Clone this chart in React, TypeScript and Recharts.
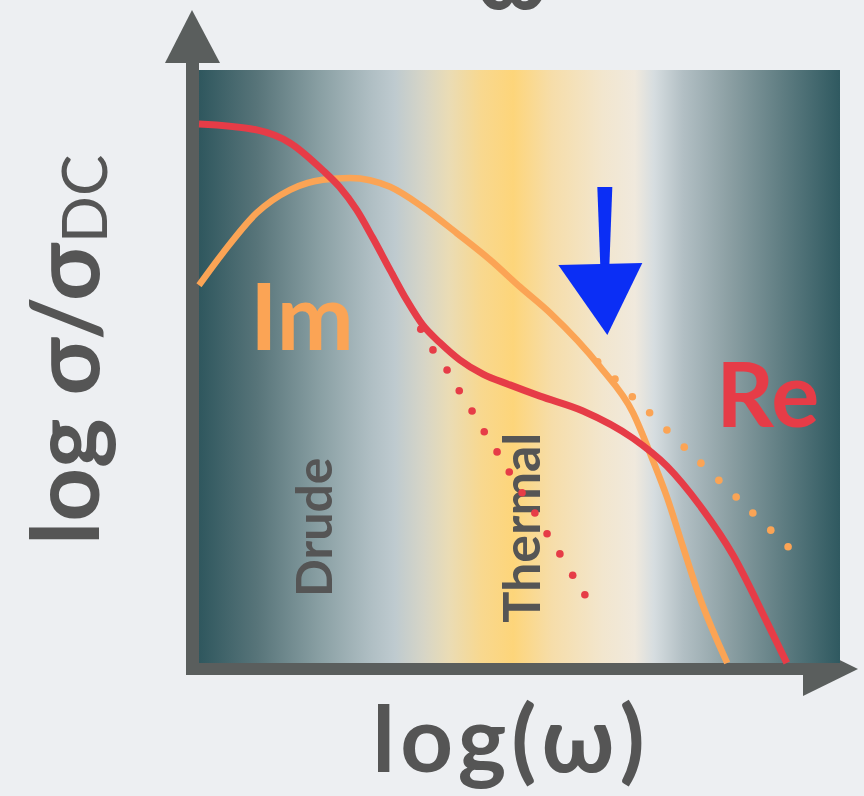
import { ComposedChart, Line, Scatter, XAxis, YAxis, ReferenceArea, ReferenceDot } from 'recharts';

// schematic optical conductivity: log sigma/sigma_DC vs log(omega), arbitrary units 0..100
const reX = [0, 9.0, 14.2, 19.3, 21.9, 24.6, 27.1, 29.8, 32.4, 34.9, 37.6, 40.7, 44.3, 48.5, 53.2, 59.9, 67.7, 73.0, 78.1, 83.3, 88.6, 91.7];
const reY = [90.9, 89.9, 87.7, 83.1, 80.3, 76.4, 71.7, 66.3, 61.2, 57.0, 54.0, 51.1, 48.7, 46.9, 45.0, 42.5, 37.9, 33.2, 26.6, 18.2, 6.9, 0];

const imX = [0, 3.7, 9.0, 14.2, 19.3, 23.6, 29.8, 34.9, 40.2, 45.4, 50.1, 54.8, 62.6, 67.7, 70.8, 73.0, 75.5, 78.1, 82.4];
const imY = [63.7, 69.1, 75.9, 79.8, 81.5, 81.8, 80.3, 76.9, 72.5, 68.0, 63.4, 59.0, 49.9, 42.2, 34.2, 28.0, 19.6, 11.1, 0];

// thermal (dotted red) and high-frequency tail (dotted orange)
const thermalX = [34.6, 36.5, 38.7, 40.6, 42.6, 44.5, 46.5, 48.4, 50.4, 52.4, 54.3, 56.3, 58.3, 60.2];
const thermalY = [56.3, 52.8, 49.4, 45.9, 42.5, 39.0, 35.6, 32.2, 28.7, 25.3, 21.8, 18.4, 14.8, 11.5];

const tailX = [62.2, 64.9, 67.6, 70.3, 73.0, 75.7, 78.3, 81.1, 83.8, 86.4, 89.2, 91.9];
const tailY = [50.8, 47.9, 44.9, 42.2, 39.3, 36.4, 33.7, 30.8, 28.0, 25.3, 22.4, 19.6];

// in-plot annotations, anchored at data positions
const notes = [
  { text: 'Drude', x: 20.7, y: 22.9, size: 50, color: '#555555', rotate: true },
  { text: 'Thermal', x: 53.2, y: 22.8, size: 52, color: '#555555', rotate: true },
  { text: 'Im', x: 8.0, y: 52.8, size: 92, color: '#FBA455', rotate: false },
  { text: 'Re', x: 80.7, y: 39.8, size: 90, color: '#E63C47', rotate: false },
];

// where the blue arrow points
const arrowTip = { x: 63.7, y: 55.3 };

const RED = '#E63C47';
const ORANGE = '#FBA455';
const GREY = '#5A5E5D';
const TEXT = '#555555';
const FONT = "Lato, 'DejaVu Sans', sans-serif";

const zip = (xs: number[], ys: number[]) => xs.map((x, i) => ({ x, y: ys[i] }));

const bgStops: [number, string][] = [
  [0, '#2F575E'],
  [0.09, '#577479'],
  [0.19, '#8AA0A4'],
  [0.27, '#B0BFC4'],
  [0.305, '#BECACF'],
  [0.35, '#D6D5C7'],
  [0.39, '#EADCB5'],
  [0.44, '#F8D88F'],
  [0.49, '#FDD57A'],
  [0.55, '#F6DDA9'],
  [0.63, '#F2E6CE'],
  [0.68, '#F0E9DD'],
  [0.71, '#D6DDE0'],
  [0.755, '#B2BFC4'],
  [0.83, '#8A9EA2'],
  [0.91, '#5F7D82'],
  [1, '#2F5960'],
];

const Dot = (color: string) => (props: any) => (
  <circle cx={props.cx} cy={props.cy} r={3.8} fill={color} />
);

const BlueArrow = (props: any) => {
  const { cx, cy } = props;
  return (
    <g fill="#0B2EF5">
      <polygon points={`${cx - 10},${cy - 148} ${cx + 5},${cy - 148} ${cx + 2},${cy - 68} ${cx - 7},${cy - 68}`} />
      <polygon points={`${cx - 49},${cy - 70} ${cx + 35},${cy - 72} ${cx},${cy}`} />
    </g>
  );
};

const noteShape = (n: (typeof notes)[number]) => (props: any) => {
  const { cx, cy } = props;
  return n.rotate ? (
    <text transform={`translate(${cx},${cy}) rotate(-90)`} textAnchor="middle" fontFamily={FONT} fontWeight={700} fontSize={n.size} fill={n.color}>
      {n.text}
    </text>
  ) : (
    <text x={cx} y={cy} fontFamily={FONT} fontWeight={700} fontSize={n.size} fill={n.color}>
      {n.text}
    </text>
  );
};

export default function App() {
  const reData = zip(reX, reY);
  const imData = zip(imX, imY);
  const thermalData = zip(thermalX, thermalY);
  const tailData = zip(tailX, tailY);

  return (
    <div style={{ position: 'absolute', left: 0, top: 0, width: 864, height: 796, background: '#EDEFF2' }}>
      <ComposedChart width={864} height={796} margin={{ top: 70, right: 24, bottom: 133, left: 199 }}>
        <defs>
          <linearGradient id="bandGradient" x1="0" y1="0" x2="1" y2="0">
            {bgStops.map(([o, c]) => (
              <stop key={o} offset={o} stopColor={c} />
            ))}
          </linearGradient>
        </defs>
        <XAxis type="number" dataKey="x" domain={[0, 100]} hide />
        <YAxis type="number" dataKey="y" domain={[0, 100]} hide />
        <ReferenceArea x1={0} x2={100} y1={0} y2={100} fill="url(#bandGradient)" fillOpacity={1} stroke="none" />

        {notes.map((n) => (
          <ReferenceDot key={n.text} x={n.x} y={n.y} r={0} shape={noteShape(n)} ifOverflow="visible" />
        ))}

        <Scatter data={thermalData} shape={Dot(RED)} isAnimationActive={false} />
        <Scatter data={tailData} shape={Dot(ORANGE)} isAnimationActive={false} />
        <Line data={imData} dataKey="y" type="monotone" stroke={ORANGE} strokeWidth={6.5} dot={false} isAnimationActive={false} />
        <Line data={reData} dataKey="y" type="monotone" stroke={RED} strokeWidth={7} dot={false} isAnimationActive={false} />

        <ReferenceDot x={arrowTip.x} y={arrowTip.y} r={0} shape={BlueArrow} ifOverflow="visible" />

        <g fontFamily={FONT} fontWeight={700} fill={TEXT}>
          <text x={512} y={9} fontSize={90} textAnchor="middle">ω</text>
          <text transform="translate(99,545) rotate(-90)" fontSize={94}>
            log σ/σ<tspan fontSize={62} fontWeight={400} dy={8}>DC</tspan>
          </text>
          <text x={511} y={772} fontSize={92} letterSpacing={5} textAnchor="middle">log(ω)</text>
        </g>

        <g fill={GREY}>
          <rect x={186} y={60} width={13} height={615} />
          <polygon points="165,63 220,63 192,10" />
          <rect x={186} y={663} width={620} height={12} />
          <polygon points="803,642 803,696 858,669" />
        </g>
      </ComposedChart>
    </div>
  );
}
